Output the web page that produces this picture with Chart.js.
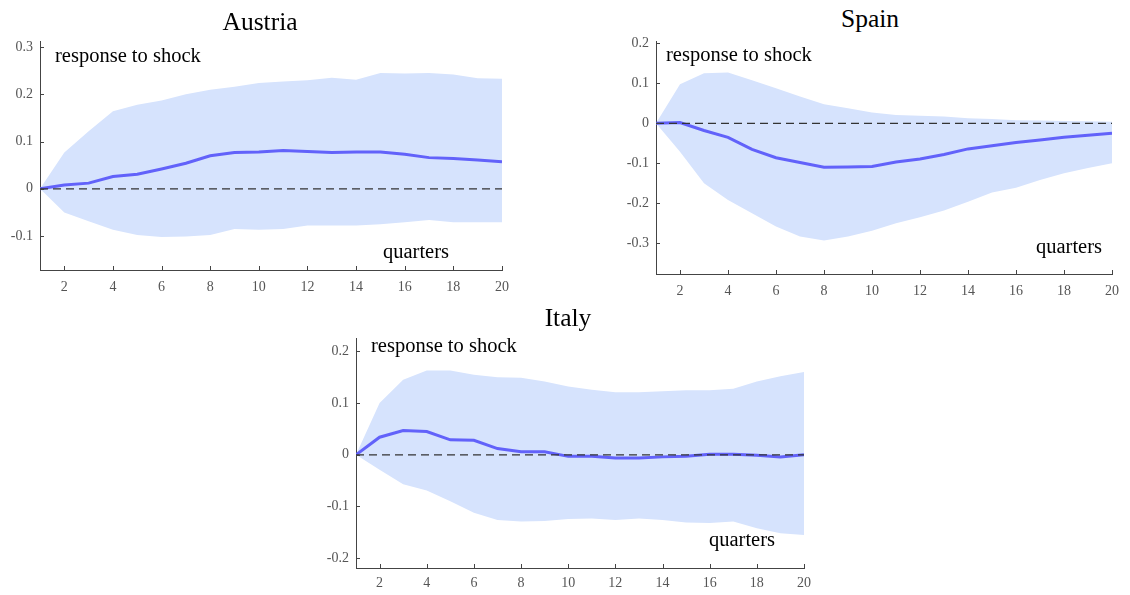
<!DOCTYPE html>
<html>
<head>
<meta charset="utf-8">
<script src="https://cdn.jsdelivr.net/npm/chart.js@4"></script>
<style>
  body { margin: 0; width: 1130px; height: 595px; background: #fff; position: relative; overflow: hidden; font-family: "Liberation Serif", serif; }
  .box { position: absolute; }
  .t { position: absolute; white-space: nowrap; color: #000; line-height: 1; }
  .title { font-size: 25.5px; transform: translateX(-50%); }
  .note { font-size: 20.5px; }
</style>
</head>
<body>

<div class="box" style="left:0px;top:35px;width:520px;height:265px"><canvas id="austria"></canvas></div>
<div class="box" style="left:610px;top:35px;width:520px;height:270px"><canvas id="spain"></canvas></div>
<div class="box" style="left:310px;top:330px;width:515px;height:265px"><canvas id="italy"></canvas></div>

<div class="t title" style="left:260px;top:9px">Austria</div>
<div class="t title" style="left:870px;top:6px">Spain</div>
<div class="t title" style="left:568px;top:305px">Italy</div>

<div class="t note" style="left:55px;top:45px">response to shock</div>
<div class="t note" style="left:666px;top:44px">response to shock</div>
<div class="t note" style="left:371px;top:335px">response to shock</div>

<div class="t note" style="left:383px;top:241px">quarters</div>
<div class="t note" style="left:1036px;top:236px">quarters</div>
<div class="t note" style="left:709px;top:529px">quarters</div>

<script>
// horizon
const quarters = [1, 2, 3, 4, 5, 6, 7, 8, 9, 10, 11, 12, 13, 14, 15, 16, 17, 18, 19, 20];
const xTicks = [2, 4, 6, 8, 10, 12, 14, 16, 18, 20];

// Austria
const austriaLine  = [0, 0.008, 0.012, 0.026, 0.031, 0.042, 0.054, 0.070, 0.077, 0.078, 0.081, 0.079, 0.077, 0.078, 0.078, 0.073, 0.066, 0.064, 0.061, 0.057];
const austriaUpper = [0, 0.077, 0.122, 0.164, 0.178, 0.187, 0.200, 0.210, 0.216, 0.224, 0.227, 0.230, 0.235, 0.231, 0.245, 0.244, 0.245, 0.242, 0.234, 0.233];
const austriaLower = [0, -0.050, -0.069, -0.087, -0.098, -0.102, -0.101, -0.098, -0.085, -0.087, -0.085, -0.078, -0.078, -0.078, -0.075, -0.071, -0.066, -0.071, -0.071, -0.071];
const austriaYTicks = [-0.1, 0, 0.1, 0.2, 0.3];

// Spain
const spainLine  = [0, 0.002, -0.018, -0.035, -0.065, -0.086, -0.098, -0.110, -0.109, -0.108, -0.097, -0.089, -0.078, -0.064, -0.056, -0.048, -0.042, -0.035, -0.030, -0.025];
const spainUpper = [0, 0.098, 0.125, 0.127, 0.108, 0.088, 0.067, 0.048, 0.038, 0.027, 0.021, 0.019, 0.017, 0.013, 0.011, 0.008, 0.007, 0.006, 0.005, 0.004];
const spainLower = [0, -0.071, -0.150, -0.192, -0.225, -0.258, -0.283, -0.293, -0.283, -0.269, -0.250, -0.235, -0.218, -0.196, -0.173, -0.161, -0.142, -0.125, -0.112, -0.100];
const spainYTicks = [-0.3, -0.2, -0.1, 0, 0.1, 0.2];

// Italy
const italyLine  = [0, 0.034, 0.047, 0.045, 0.029, 0.028, 0.012, 0.006, 0.006, -0.003, -0.003, -0.006, -0.006, -0.004, -0.003, 0.001, 0.001, -0.001, -0.004, 0];
const italyUpper = [0, 0.100, 0.145, 0.163, 0.163, 0.155, 0.150, 0.149, 0.142, 0.132, 0.126, 0.121, 0.121, 0.123, 0.125, 0.125, 0.128, 0.142, 0.152, 0.160];
const italyLower = [0, -0.029, -0.057, -0.069, -0.090, -0.112, -0.126, -0.129, -0.128, -0.124, -0.123, -0.126, -0.123, -0.126, -0.131, -0.132, -0.129, -0.142, -0.152, -0.155];
const italyYTicks = [-0.2, -0.1, 0, 0.1, 0.2];

const BAND = '#d6e3fd';
const LINE = '#6262fa';
const AXIS = '#444';

// zero line + inward tick marks
const overlay = {
  id: 'overlay',
  afterDatasetsDraw(chart) {
    const { ctx, chartArea: a, scales: { x, y } } = chart;
    ctx.save();
    ctx.strokeStyle = '#333';
    ctx.lineWidth = 1.3;
    ctx.setLineDash([8, 5]);
    const y0 = y.getPixelForValue(0);
    ctx.beginPath(); ctx.moveTo(a.left, y0); ctx.lineTo(a.right, y0); ctx.stroke();
    ctx.setLineDash([]);
    ctx.strokeStyle = AXIS;
    ctx.lineWidth = 1;
    ctx.beginPath();
    xTicks.forEach(v => { const px = Math.round(x.getPixelForValue(v)) + 0.5; ctx.moveTo(px, a.bottom); ctx.lineTo(px, a.bottom - 4); });
    y.ticks.forEach(t => { const py = Math.round(y.getPixelForValue(t.value)) + 0.5; ctx.moveTo(a.left, py); ctx.lineTo(a.left + 4, py); });
    ctx.stroke();
    ctx.restore();
  }
};

function pts(arr) { return quarters.map((q, i) => ({ x: q, y: arr[i] })); }

function panel(id, line, upper, lower, yTicks, yMin, yMax, yW, xH, pad, xPad) {
  new Chart(document.getElementById(id), {
    type: 'line',
    data: {
      datasets: [
        { data: pts(line), borderColor: LINE, borderWidth: 3, pointRadius: 0, fill: false, tension: 0, order: 0 },
        { data: pts(upper), borderWidth: 0, pointRadius: 0, backgroundColor: BAND, fill: '+1', order: 2 },
        { data: pts(lower), borderWidth: 0, pointRadius: 0, fill: false, order: 3 }
      ]
    },
    options: {
      responsive: true, maintainAspectRatio: false, animation: false,
      layout: { padding: pad },
      plugins: { legend: { display: false }, tooltip: { enabled: false } },
      scales: {
        x: {
          type: 'linear', min: 1, max: 20,
          grid: { display: false, drawTicks: false },
          border: { display: true, color: AXIS, width: 1 },
          afterBuildTicks: s => { s.ticks = xTicks.map(v => ({ value: v })); },
          afterFit: s => { s.height = xH; s.paddingLeft = 0; s.paddingRight = 0; },
          ticks: { color: '#555', font: { family: 'Liberation Serif', size: 14 }, padding: xPad, maxRotation: 0, callback: v => String(v) }
        },
        y: {
          min: yMin, max: yMax,
          grid: { display: false, drawTicks: false },
          border: { display: true, color: AXIS, width: 1 },
          afterBuildTicks: s => { s.ticks = yTicks.map(v => ({ value: v })); },
          afterFit: s => { s.width = yW; s.paddingTop = 0; s.paddingBottom = 0; },
          ticks: { color: '#555', font: { family: 'Liberation Serif', size: 14 }, padding: 7, callback: v => String(v) }
        }
      }
    },
    plugins: [overlay]
  });
}

panel('austria', austriaLine, austriaUpper, austriaLower, austriaYTicks, -0.172, 0.313, 40, 30, { top: 6, right: 18 }, 9);
panel('spain', spainLine, spainUpper, spainLower, spainYTicks, -0.377, 0.206, 46, 31, { top: 6, right: 18 }, 9);
panel('italy', italyLine, italyUpper, italyLower, italyYTicks, -0.219, 0.226, 46, 27, { top: 8, right: 21 }, 7);
</script>
</body>
</html>
